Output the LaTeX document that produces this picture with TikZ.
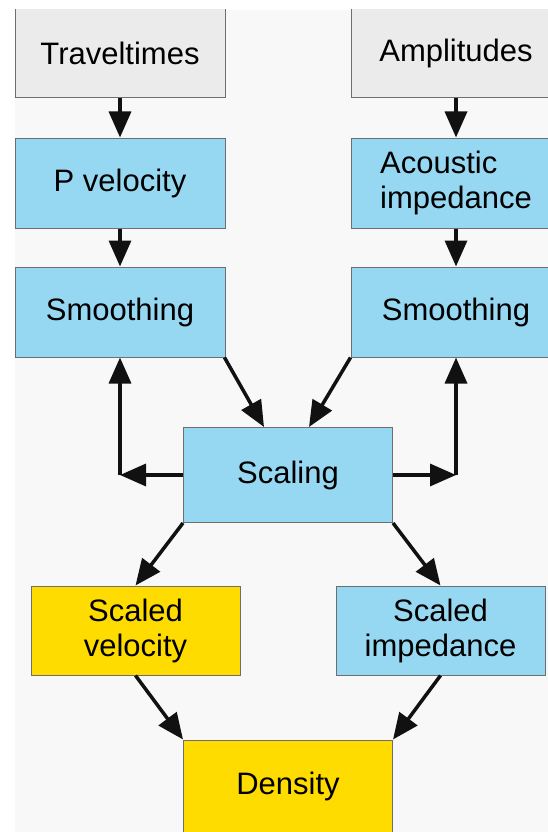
\documentclass[tikz,border=0pt]{standalone}
\usepackage{fontspec}
\setmainfont{Liberation Sans}
\usetikzlibrary{arrows.meta,calc}

\definecolor{panelgray}{HTML}{F8F8F8}
\definecolor{inputgray}{HTML}{EBEBEB}
\definecolor{procblue}{HTML}{96D8F1}
\definecolor{outyellow}{HTML}{FFDC00}
\definecolor{edgegray}{HTML}{6E6E6E}
\definecolor{arrowink}{HTML}{111111}

\tikzset{
  box/.style={rectangle, draw=edgegray, line width=1pt, inner sep=0pt,
    minimum width=210pt, minimum height=90pt, align=center,
    font=\fontsize{31}{35}\selectfont, text=black},
  inbox/.style={box, fill=inputgray},
  bluebox/.style={box, fill=procblue},
  yellowbox/.style={box, fill=outyellow},
  flow/.style={draw=arrowink, line width=3.5pt,
    -{Triangle[length=26pt,width=22pt]}},
}

\begin{document}
\begin{tikzpicture}[x=1pt,y=-1pt]
\useasboundingbox (0,0) rectangle (548,832);
\fill[panelgray] (15,10) rectangle (548,832);

\begin{scope}
\clip (14,10) rectangle (548,832);

% inputs
\node[inbox] (trav) at (120,53) {Traveltimes};
\node[inbox] (amp)  at (456,53) {Amplitudes};

% first processing row
\node[bluebox] (pvel) at (120,183) {P velocity};
\node[bluebox, align=left] (acou) at (456,183) {Acoustic\\impedance};

% smoothing
\node[bluebox] (smL) at (120,312) {Smoothing};
\node[bluebox] (smR) at (456,312) {Smoothing};

% scaling
\node[bluebox, minimum width=209pt, minimum height=95pt] (scal) at (288,475) {Scaling};

% scaled results
\node[yellowbox, minimum width=209pt, minimum height=89pt] (sv) at (135.5,630.5) {Scaled\\velocity};
\node[bluebox, minimum width=209pt, minimum height=89pt] (si) at (440.5,630.5) {Scaled\\impedance};

% density
\node[yellowbox, minimum width=209pt, minimum height=92pt] (dens) at (288,786) {Density};

% feedback corners
\coordinate (cL) at (smL.south |- scal.west);
\coordinate (cR) at (smR.south |- scal.east);

% connectors
\draw[flow] (trav.south) -- (pvel.north);
\draw[flow] (amp.south) -- (acou.north);
\draw[flow] (pvel.south) -- (smL.north);
\draw[flow] (acou.south) -- (smR.north);

\draw[flow] ($(smL.south east)+(-1,0)$) -- ($(scal.north)+(-24,0)$);
\draw[flow] (smR.south west) -- ($(scal.north)+(21,0)$);

\draw[flow] (scal.west) -- (cL);
\draw[flow] (cL) -- (smL.south);
\draw[flow] (scal.east) -- (cR);
\draw[flow] (cR) -- (smR.south);

\draw[flow] (scal.south west) -- (sv.north);
\draw[flow] (scal.south east) -- (si.north);

\draw[flow] (sv.south) -- (dens.north west);
\draw[flow] (si.south) -- (dens.north east);
\end{scope}
\end{tikzpicture}
\end{document}
